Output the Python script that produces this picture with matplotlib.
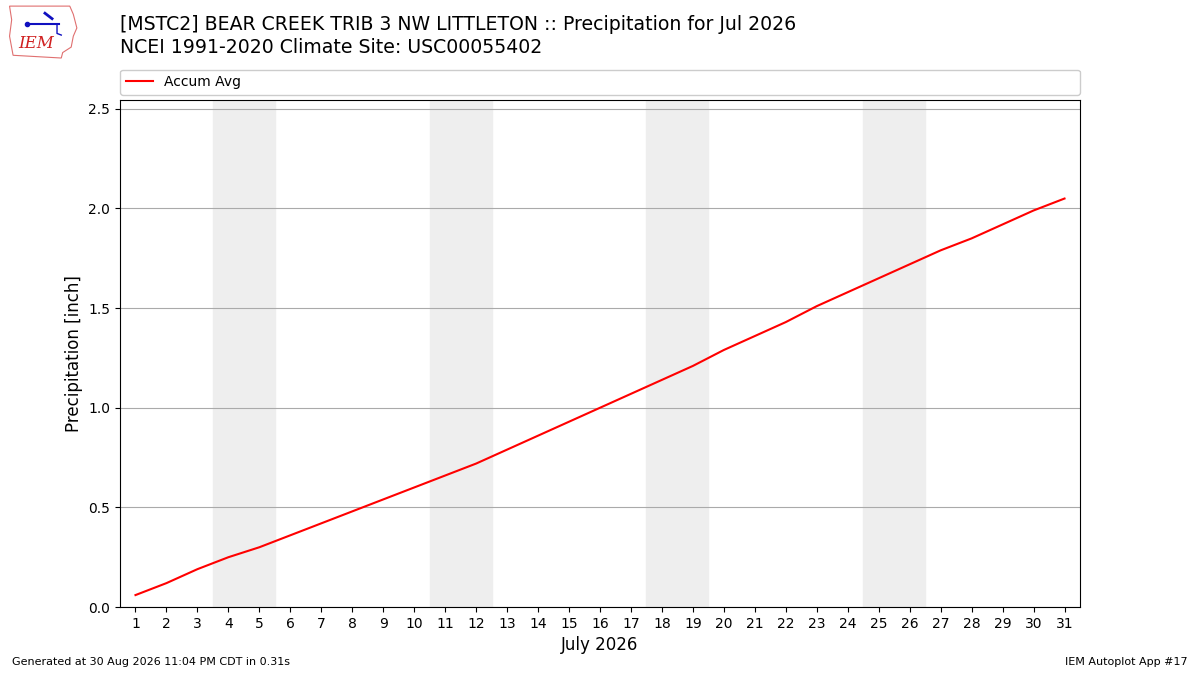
import matplotlib
matplotlib.use('Agg')
import matplotlib.pyplot as plt
import numpy as np

# daily accumulated average precipitation, July (inch)
days = list(range(1, 32))
accum_avg = [0.06, 0.12, 0.19, 0.25, 0.30, 0.36, 0.42, 0.48, 0.54, 0.60,
             0.66, 0.72, 0.79, 0.86, 0.93, 1.00, 1.07, 1.14, 1.21, 1.29,
             1.36, 1.43, 1.51, 1.58, 1.65, 1.72, 1.79, 1.85, 1.92, 1.99,
             2.05]
# saturday of each weekend
weekend_starts = [4, 11, 18, 25]

title = ('[MSTC2] BEAR CREEK TRIB 3 NW LITTLETON :: Precipitation for Jul 2026\n'
         'NCEI 1991-2020 Climate Site: USC00055402')

fig = plt.figure(figsize=(12, 6.75), dpi=100)
ax = fig.add_axes([0.1, 0.1007, 0.8, 0.7513])

for sat in weekend_starts:
    ax.axvspan(sat - 0.5, sat + 1.5, color='#eeeeee', zorder=0)

ax.plot(days, accum_avg, color='r', lw=1.5, label='Accum Avg', zorder=3)

ax.set_xlim(0.5, 31.5)
ax.set_ylim(0, 2.545)
ax.set_xticks(days)
ax.set_yticks(np.arange(0, 2.51, 0.5))
ax.yaxis.grid(True, color='#aaaaaa', lw=0.8)
ax.set_axisbelow(True)
ax.set_xlabel('July 2026', fontsize=12)
ax.set_ylabel('Precipitation [inch]', fontsize=12)
ax.legend(loc='lower left', bbox_to_anchor=(0, 1.01, 1, 0.05), mode='expand',
          ncol=1, fontsize=10, borderaxespad=0, framealpha=1)

fig.text(0.1, 0.947, title, fontsize=13.6, va='center', ha='left',
         linespacing=1.25)
fig.text(0.01, 0.015, 'Generated at 30 Aug 2026 11:04 PM CDT in 0.31s',
         fontsize=8, ha='left')
fig.text(0.99, 0.015, 'IEM Autoplot App #17', fontsize=8, ha='right')

# rough stand-in for the IEM logo
logo = fig.add_axes([0.005, 0.91, 0.062, 0.085])
ox = [0.05, 0.9, 0.95, 1.0, 0.95, 0.92, 0.8, 0.78, 0.1, 0.05, 0.08, 0.05]
oy = [0.95, 0.95, 0.8, 0.55, 0.4, 0.2, 0.1, 0.0, 0.05, 0.4, 0.7, 0.95]
logo.fill(ox, oy, facecolor='white', edgecolor='#e07070', lw=0.8)
logo.plot([0.3, 0.75], [0.62, 0.62], color='#1010c0', lw=1.5)
logo.plot([0.3], [0.62], 'o', color='#1010c0', ms=3)
logo.plot([0.55, 0.65], [0.82, 0.72], color='#1010c0', lw=2)
logo.plot([0.72, 0.72, 0.78], [0.62, 0.45, 0.42], color='#1010c0', lw=1)
logo.text(0.42, 0.27, 'IEM', color='#d02020', fontsize=12, style='italic',
          family='serif', ha='center', va='center')
logo.set_xlim(0, 1.05)
logo.set_ylim(-0.05, 1.0)
logo.set_axis_off()

fig.savefig('out.png', dpi=100)
